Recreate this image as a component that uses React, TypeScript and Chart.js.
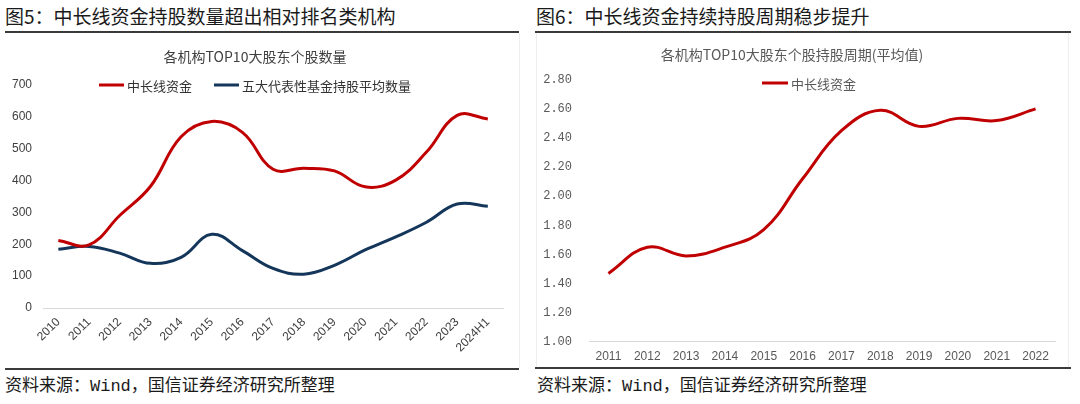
import React, { useEffect, useRef } from "react";
import { Chart, registerables } from "chart.js";

Chart.register(...registerables);

// ---------- data ----------
const yearsLeft = ["2010", "2011", "2012", "2013", "2014", "2015", "2016", "2017", "2018", "2019", "2020", "2021", "2022", "2023", "2024H1"];
const midLongCount = [212, 198, 290, 381, 537, 585, 551, 435, 438, 430, 380, 401, 489, 604, 593];
const fundAvgCount = [184, 193, 172, 140, 159, 231, 180, 124, 106, 134, 182, 223, 269, 326, 319];
const leftTicks = [0, 100, 200, 300, 400, 500, 600, 700];

const yearsRight = ["2011", "2012", "2013", "2014", "2015", "2016", "2017", "2018", "2019", "2020", "2021", "2022"];
const midLongPeriod = [1.47, 1.65, 1.59, 1.65, 1.77, 2.12, 2.45, 2.59, 2.48, 2.535, 2.52, 2.6];

const labelMidLong = "中长线资金";
const labelFundAvg = "五大代表性基金持股平均数量";

const RED = "#C00000";
const NAVY = "#14365A";

const inlineLegend = {
  id: "inlineLegend",
  afterDraw(chart: any, _args: any, opts: any) {
    const ctx = chart.ctx;
    const items = chart.data.datasets.map((d: any) => ({ label: d.label, color: d.borderColor }));
    ctx.save();
    ctx.font = `${opts.size}px ${opts.family}`;
    const widths = items.map((it: any) => opts.lineLen + opts.gap + ctx.measureText(it.label).width);
    const total = widths.reduce((a: number, b: number) => a + b, 0) + opts.itemGap * (items.length - 1);
    let x = opts.cx - total / 2;
    const y = opts.y;
    items.forEach((it: any, i: number) => {
      ctx.strokeStyle = it.color;
      ctx.lineWidth = 3;
      ctx.beginPath();
      ctx.moveTo(x, y);
      ctx.lineTo(x + opts.lineLen, y);
      ctx.stroke();
      ctx.fillStyle = opts.color;
      ctx.textBaseline = "middle";
      ctx.textAlign = "left";
      ctx.fillText(it.label, x + opts.lineLen + opts.gap, y + 1);
      x += widths[i] + opts.itemGap;
    });
    ctx.restore();
  },
};

const SANS = '"Liberation Sans", "Noto Sans CJK SC", sans-serif';
const CJK = '"Noto Sans CJK SC", "Liberation Sans", sans-serif';
const MONO = '"Liberation Mono", "DejaVu Sans Mono", monospace';

function LeftChart() {
  const ref = useRef<HTMLCanvasElement | null>(null);
  useEffect(() => {
    const chart = new Chart(ref.current as HTMLCanvasElement, {
      type: "line",
      data: {
        labels: yearsLeft,
        datasets: [
          { label: labelMidLong, data: midLongCount, borderColor: RED, borderWidth: 3, pointRadius: 0, tension: 0.4, fill: false },
          { label: labelFundAvg, data: fundAvgCount, borderColor: NAVY, borderWidth: 3, pointRadius: 0, tension: 0.4, fill: false },
        ],
      },
      options: {
        responsive: false,
        animation: false,
        devicePixelRatio: 1,
        layout: { padding: { left: 0, right: 0, top: 0, bottom: 0 } },
        plugins: {
          legend: { display: false },
          tooltip: { enabled: false },
          title: {
            display: true,
            text: "各机构TOP10大股东个股数量",
            color: "#404040",
            font: { family: CJK, size: 14, weight: "normal" },
            padding: { top: 12, bottom: 20 },
          },
          inlineLegend: { cx: 250, y: 49, size: 13, family: CJK, color: "#333333", lineLen: 25, gap: 3, itemGap: 22 },
        } as any,
        scales: {
          x: {
            offset: true,
            grid: { display: false, drawTicks: false },
            border: { display: true, color: "#d9d9d9", width: 1 },
            ticks: { color: "#404040", font: { family: SANS, size: 12 }, minRotation: 45, maxRotation: 45, padding: 7 },
            afterFit: (s: any) => { s.height = 58; },
          },
          y: {
            min: 0,
            max: 700,
            afterBuildTicks: (s: any) => { s.ticks = leftTicks.map((v) => ({ value: v })); },
            grid: { display: false, drawTicks: false },
            border: { display: false },
            ticks: { color: "#404040", font: { family: SANS, size: 12 }, padding: 11 },
            afterFit: (s: any) => { s.width = 38; },
          },
        },
      },
      plugins: [inlineLegend as any],
    });
    return () => chart.destroy();
  }, []);
  return <canvas ref={ref} width={500} height={330} style={{ width: 500, height: 330, display: "block" }} />;
}

function RightChart() {
  const ref = useRef<HTMLCanvasElement | null>(null);
  useEffect(() => {
    const chart = new Chart(ref.current as HTMLCanvasElement, {
      type: "line",
      data: {
        labels: yearsRight,
        datasets: [
          { label: labelMidLong, data: midLongPeriod, borderColor: RED, borderWidth: 3, pointRadius: 0, tension: 0.4, fill: false },
        ],
      },
      options: {
        responsive: false,
        animation: false,
        devicePixelRatio: 1,
        layout: { padding: { left: 0, right: 13, top: 0, bottom: 0 } },
        plugins: {
          legend: { display: false },
          tooltip: { enabled: false },
          title: {
            display: true,
            text: "各机构TOP10大股东个股持股周期(平均值)",
            color: "#595959",
            font: { family: CJK, size: 14, weight: "normal" },
            padding: { top: 10, bottom: 17 },
          },
          inlineLegend: { cx: 280, y: 47, size: 13, family: CJK, color: "#595959", lineLen: 26, gap: 3, itemGap: 20 },
        } as any,
        scales: {
          x: {
            offset: true,
            grid: { display: false, drawTicks: false },
            border: { display: true, color: "#d9d9d9", width: 1 },
            ticks: { color: "#595959", font: { family: SANS, size: 12 }, maxRotation: 0, padding: 8 },
            afterFit: (s: any) => { s.height = 23; },
          },
          y: {
            min: 1,
            max: 2.8,
            ticks: {
              stepSize: 0.2,
              color: "#595959",
              font: { family: MONO, size: 12 },
              padding: 17,
              callback: (v: any) => Number(v).toFixed(2),
            },
            grid: { display: false, drawTicks: false },
            border: { display: false },
            afterFit: (s: any) => { s.width = 60; },
          },
        },
      },
      plugins: [inlineLegend as any],
    });
    return () => chart.destroy();
  }, []);
  return <canvas ref={ref} width={539} height={330} style={{ width: 539, height: 330, display: "block" }} />;
}

const abs = (left: number, top: number, extra: React.CSSProperties = {}): React.CSSProperties => ({
  position: "absolute",
  left,
  top,
  ...extra,
});

export default function App() {
  const titleStyle: React.CSSProperties = {
    fontFamily: CJK,
    fontSize: 19,
    lineHeight: "24px",
    color: "#1a1a1a",
    fontWeight: 400,
    whiteSpace: "nowrap",
  };
  const sourceStyle: React.CSSProperties = {
    fontFamily: '"Liberation Mono", "Noto Sans CJK SC", monospace',
    fontSize: 17,
    lineHeight: "20px",
    color: "#1a1a1a",
    fontWeight: 400,
    whiteSpace: "nowrap",
  };
  return (
    <div style={{ position: "absolute", left: 0, top: 0, width: 1080, height: 404, background: "#ffffff", overflow: "hidden" }}>
      <div style={abs(5, 4, titleStyle)}>图5：中长线资金持股数量超出相对排名类机构</div>
      <div style={abs(536, 4, titleStyle)}>图6：中长线资金持续持股周期稳步提升</div>

      <div style={abs(5, 31, { width: 514, height: 2, background: "#3a3a3a" })} />
      <div style={abs(535, 31, { width: 536, height: 2, background: "#3a3a3a" })} />

      <div style={abs(519, 33, { width: 1, height: 335, background: "#eeeeee" })} />
      <div style={abs(536, 33, { width: 1, height: 335, background: "#eeeeee" })} />
      <div style={abs(1068, 33, { width: 1, height: 335, background: "#eeeeee" })} />

      <div style={abs(5, 36)}>
        <LeftChart />
      </div>
      <div style={abs(529, 36)}>
        <RightChart />
      </div>

      <div style={abs(5, 368, { width: 514, height: 2, background: "#3a3a3a" })} />
      <div style={abs(535, 367, { width: 536, height: 2, background: "#3a3a3a" })} />

      <div style={abs(5, 377, sourceStyle)}>资料来源：Wind，国信证券经济研究所整理</div>
      <div style={abs(537, 377, sourceStyle)}>资料来源：Wind，国信证券经济研究所整理</div>
    </div>
  );
}
